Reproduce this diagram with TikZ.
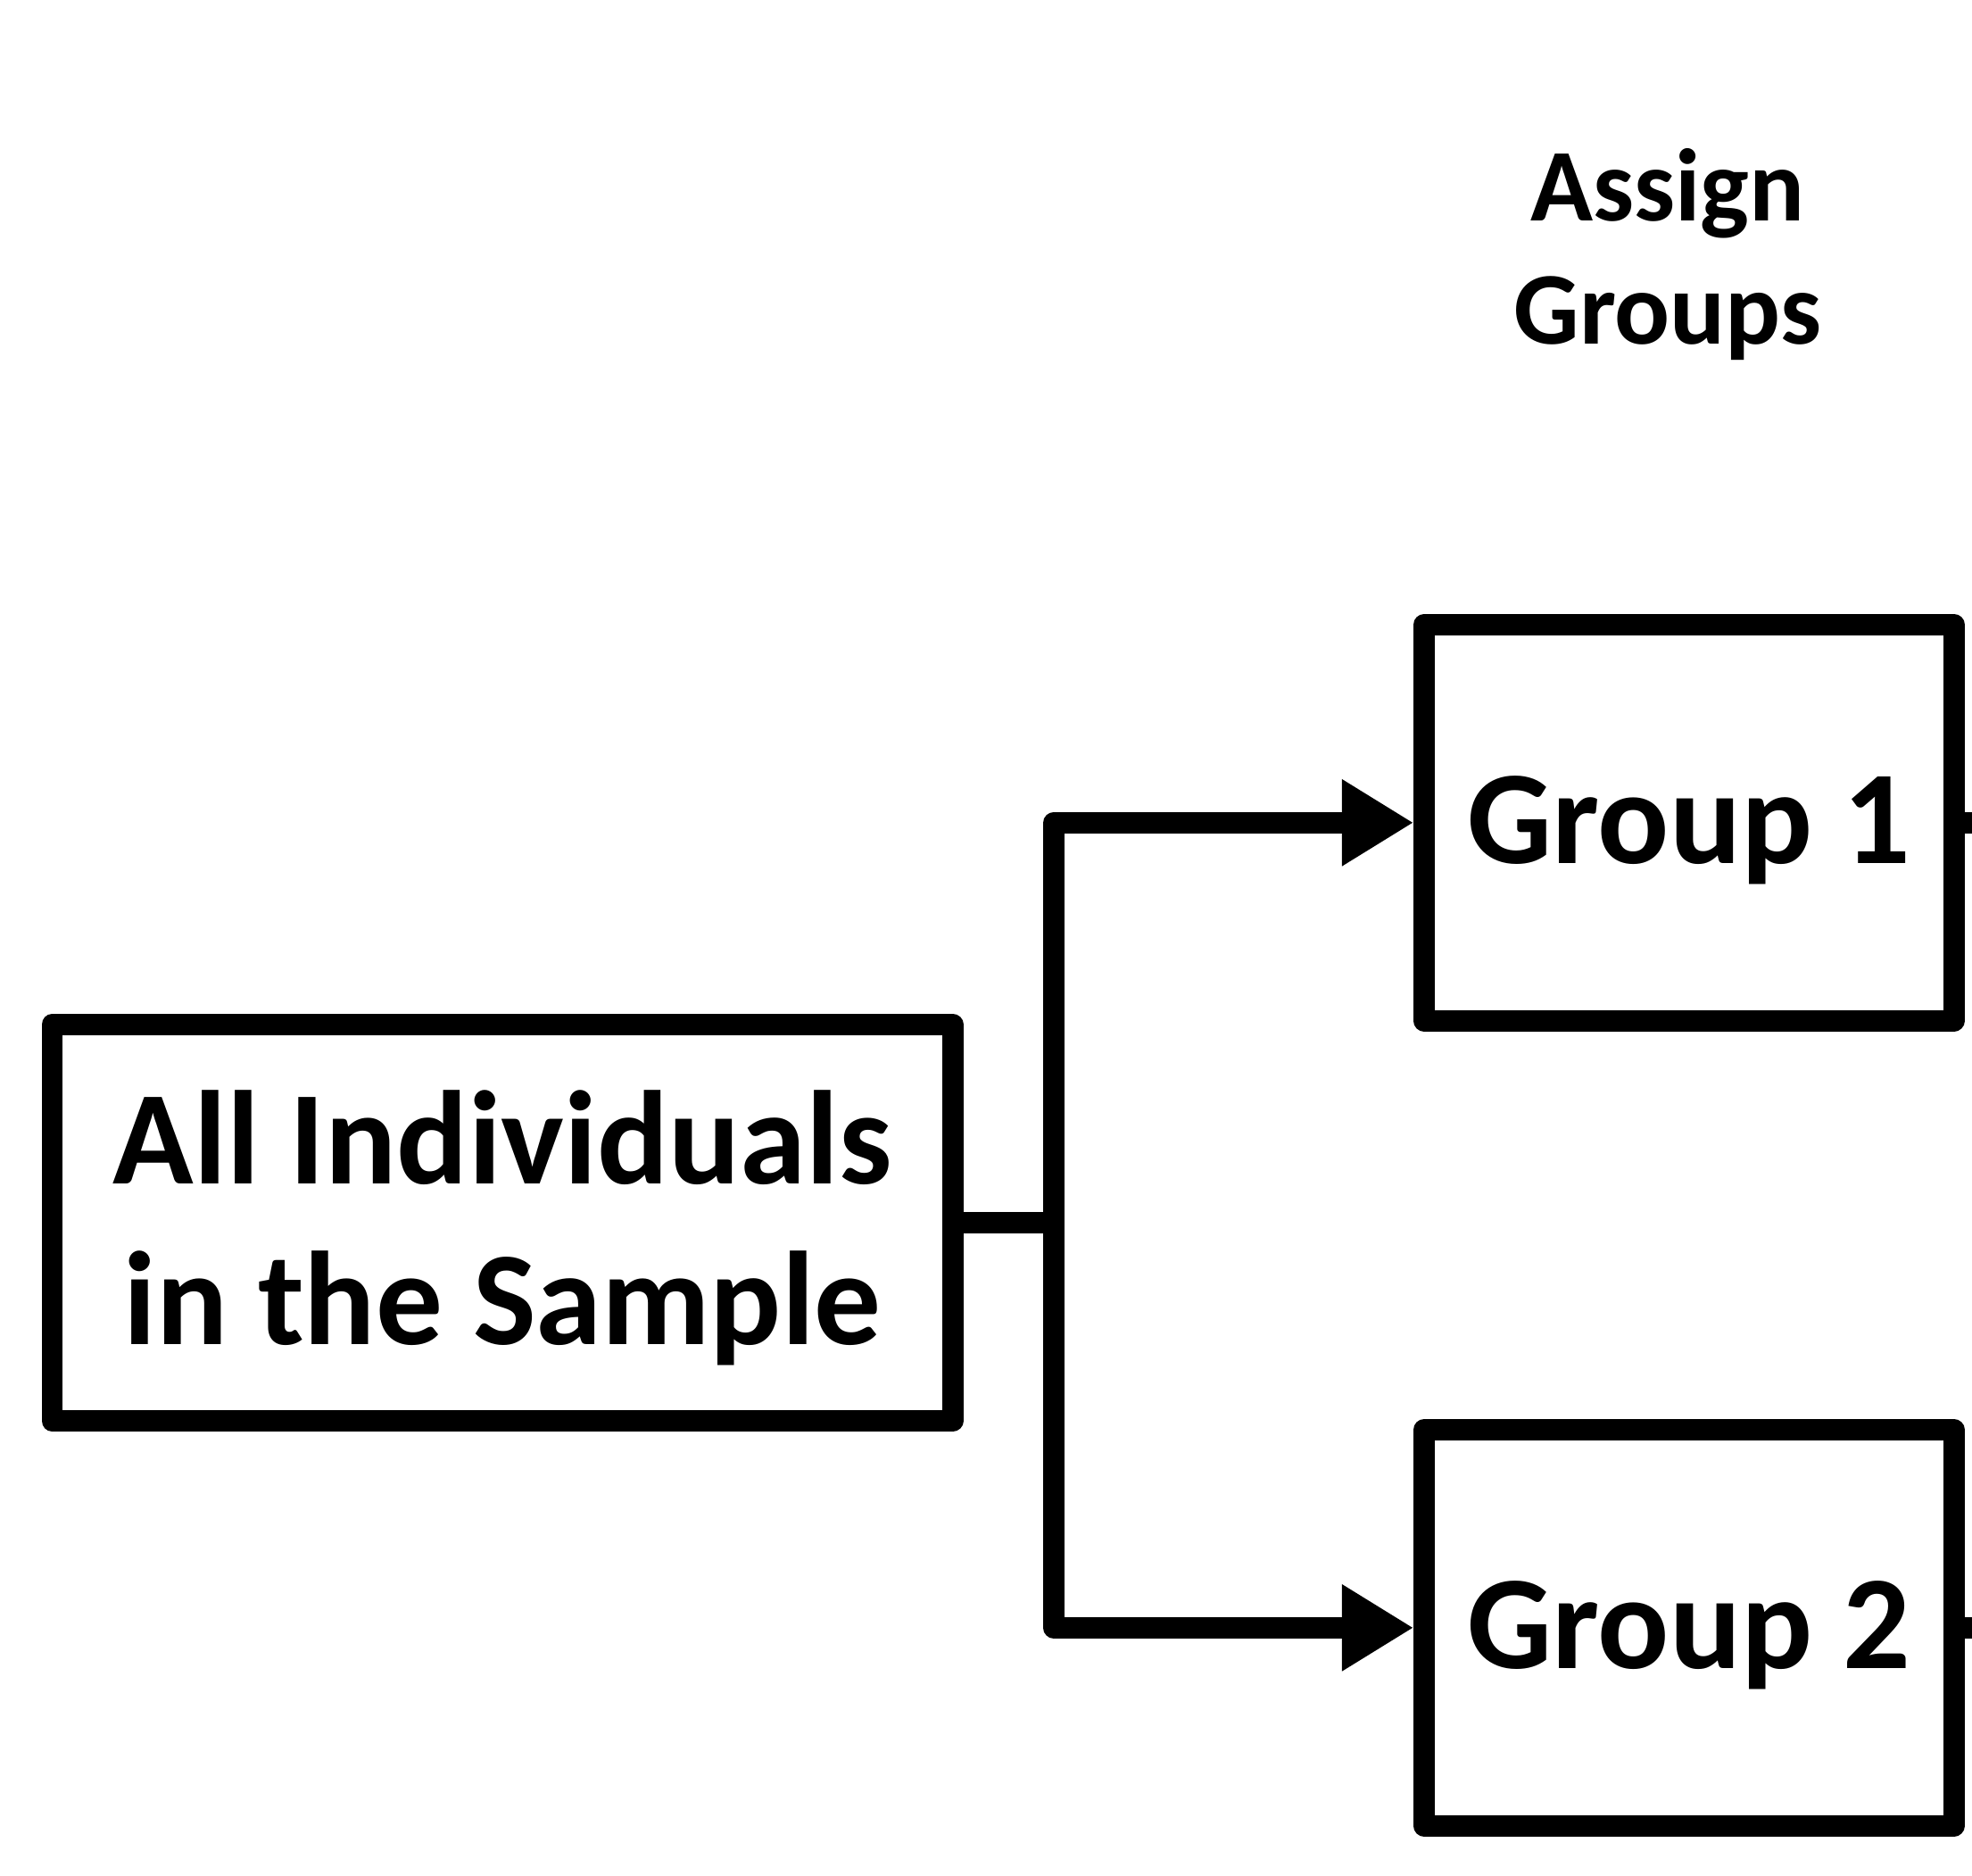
\documentclass[tikz,border=0pt]{standalone}
\usepackage{fontspec}
\setmainfont{Carlito}
\usetikzlibrary{arrows.meta}
\begin{document}
\begin{tikzpicture}[x=0.5pt,y=-0.5pt,
  box/.style={draw, line width=8.5pt, line join=round, inner sep=0pt},
  txt/.style={align=center, inner sep=0pt, font=\fontsize{53pt}{64pt}\selectfont\bfseries},
  conn/.style={draw, line width=8.5pt, line join=round},
  arr/.style={conn, -{Triangle[length=28.5pt, width=32.5pt]}},
  lbl/.style={align=center, font=\fontsize{41pt}{49pt}\selectfont\bfseries}]
\useasboundingbox (0,0) rectangle (1568,1490.7);
\node[box, minimum width=358pt, minimum height=157.5pt] (all) at (399.5,972) {};
\node[box, minimum width=210.5pt, minimum height=157.5pt] (g1) at (1343,654) {};
\node[box, minimum width=210.5pt, minimum height=157.5pt] (g2) at (1343,1294) {};
\node[txt] (alltext) at ([yshift=-2pt]all.center) {All Individuals\\in the Sample};
\node[txt] (g1text) at ([yshift=-3pt]g1.center) {Group 1};
\node[txt] (g2text) at ([yshift=-3pt]g2.center) {Group 2};
\node[lbl] (assign) at (1326,202) {Assign\\Groups};
\coordinate (split) at (838,972);
\coordinate (e1) at (1568,654);
\coordinate (e2) at (1568,1294);
\draw[conn] (all.east) -- (split);
\draw[arr] (split) |- (g1.west);
\draw[arr] (split) |- (g2.west);
\draw[conn] (g1.east) -- (e1);
\draw[conn] (g2.east) -- (e2);
\end{tikzpicture}
\end{document}
